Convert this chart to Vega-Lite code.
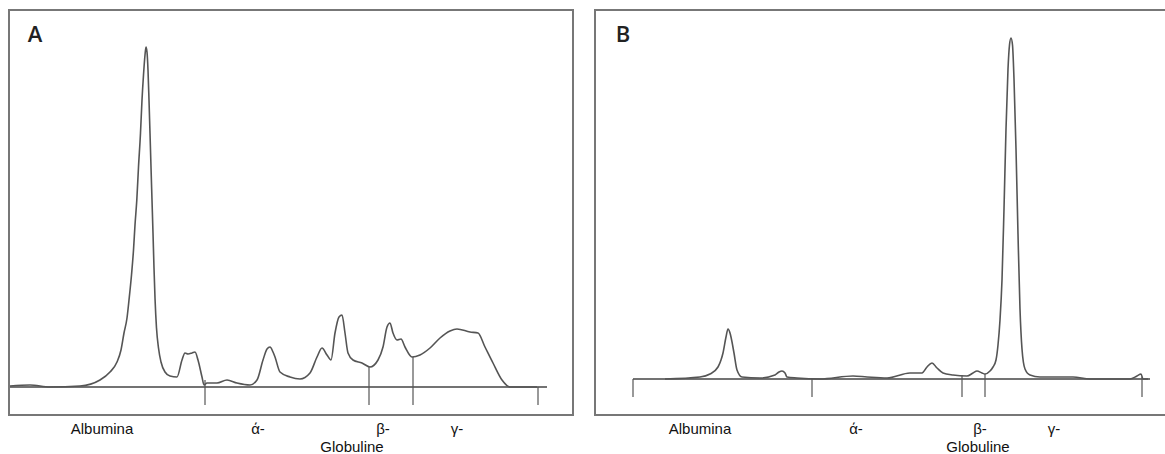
{
  "$schema": "https://vega.github.io/schema/vega-lite/v6.json",
  "padding": {"left": 5, "top": 9, "right": 0, "bottom": 0},
  "spacing": 20,
  "config": {
    "view": {"stroke": "#777", "strokeWidth": 2},
    "text": {"font": "Liberation Sans", "fontSize": 15, "color": "#111"}
  },
  "datasets": {
    "curveA": [
      {"pos": 1, "val": 1}, {"pos": 21, "val": 2}, {"pos": 41, "val": 0}, {"pos": 71, "val": 1},
      {"pos": 91, "val": 7}, {"pos": 101, "val": 15}, {"pos": 108, "val": 25}, {"pos": 112, "val": 37},
      {"pos": 115, "val": 54}, {"pos": 118, "val": 69}, {"pos": 120, "val": 87}, {"pos": 122.5, "val": 112},
      {"pos": 124.5, "val": 137}, {"pos": 126, "val": 162}, {"pos": 127.8, "val": 187}, {"pos": 129.5, "val": 220},
      {"pos": 131.5, "val": 254}, {"pos": 133, "val": 287}, {"pos": 134.5, "val": 312}, {"pos": 136, "val": 332},
      {"pos": 137, "val": 340}, {"pos": 138, "val": 335}, {"pos": 139, "val": 317}, {"pos": 140, "val": 287},
      {"pos": 141, "val": 254}, {"pos": 142, "val": 220}, {"pos": 143, "val": 187}, {"pos": 144, "val": 154},
      {"pos": 145, "val": 119}, {"pos": 146, "val": 89}, {"pos": 147.5, "val": 59}, {"pos": 149.5, "val": 39},
      {"pos": 152, "val": 25}, {"pos": 156, "val": 15}, {"pos": 161, "val": 11}, {"pos": 168, "val": 10},
      {"pos": 173, "val": 27}, {"pos": 176, "val": 34}, {"pos": 179, "val": 33}, {"pos": 183, "val": 34},
      {"pos": 186, "val": 35}, {"pos": 189, "val": 27}, {"pos": 193, "val": 10}, {"pos": 195, "val": 2},
      {"pos": 198, "val": 4}, {"pos": 208, "val": 4}, {"pos": 218, "val": 7}, {"pos": 228, "val": 4},
      {"pos": 241, "val": 2}, {"pos": 248, "val": 7}, {"pos": 254, "val": 27}, {"pos": 258, "val": 38},
      {"pos": 261, "val": 40}, {"pos": 264, "val": 35}, {"pos": 266, "val": 30}, {"pos": 271, "val": 15},
      {"pos": 281, "val": 10}, {"pos": 291, "val": 8}, {"pos": 301, "val": 14}, {"pos": 308, "val": 30},
      {"pos": 313, "val": 39}, {"pos": 318, "val": 32}, {"pos": 322, "val": 27}, {"pos": 326, "val": 54},
      {"pos": 330, "val": 70}, {"pos": 333, "val": 72}, {"pos": 336, "val": 54}, {"pos": 339, "val": 34},
      {"pos": 344, "val": 27}, {"pos": 353, "val": 24}, {"pos": 361, "val": 20}, {"pos": 369, "val": 27},
      {"pos": 374, "val": 40}, {"pos": 378, "val": 60}, {"pos": 381, "val": 64}, {"pos": 384, "val": 54},
      {"pos": 388, "val": 47}, {"pos": 392, "val": 48}, {"pos": 396, "val": 40}, {"pos": 403, "val": 30},
      {"pos": 411, "val": 32}, {"pos": 421, "val": 39}, {"pos": 431, "val": 49}, {"pos": 441, "val": 56},
      {"pos": 448, "val": 58}, {"pos": 461, "val": 55}, {"pos": 469, "val": 54}, {"pos": 476, "val": 40},
      {"pos": 484, "val": 24}, {"pos": 493, "val": 7}, {"pos": 501, "val": 0}, {"pos": 528, "val": 0}
    ],
    "curveB": [
      {"pos": 70, "val": 0}, {"pos": 105, "val": 2}, {"pos": 115, "val": 5}, {"pos": 123, "val": 12},
      {"pos": 126, "val": 19}, {"pos": 128, "val": 26}, {"pos": 131, "val": 42}, {"pos": 133, "val": 50},
      {"pos": 135, "val": 46}, {"pos": 136, "val": 42}, {"pos": 139, "val": 26}, {"pos": 142, "val": 9},
      {"pos": 147, "val": 2}, {"pos": 165, "val": 1}, {"pos": 180, "val": 4}, {"pos": 184, "val": 7},
      {"pos": 187, "val": 8}, {"pos": 190, "val": 6}, {"pos": 192, "val": 2}, {"pos": 202, "val": 1},
      {"pos": 225, "val": 0}, {"pos": 258, "val": 3}, {"pos": 272, "val": 2}, {"pos": 292, "val": 1},
      {"pos": 315, "val": 6}, {"pos": 327, "val": 6}, {"pos": 332, "val": 12}, {"pos": 337, "val": 16},
      {"pos": 342, "val": 11}, {"pos": 348, "val": 6}, {"pos": 358, "val": 4}, {"pos": 372, "val": 3},
      {"pos": 378, "val": 6}, {"pos": 382, "val": 8}, {"pos": 387, "val": 6}, {"pos": 390, "val": 5},
      {"pos": 395, "val": 8}, {"pos": 398, "val": 12}, {"pos": 401, "val": 19}, {"pos": 403, "val": 34},
      {"pos": 405, "val": 59}, {"pos": 407, "val": 99}, {"pos": 409, "val": 170}, {"pos": 411, "val": 250},
      {"pos": 413, "val": 310}, {"pos": 414.5, "val": 334}, {"pos": 416, "val": 341}, {"pos": 417.5, "val": 334},
      {"pos": 419, "val": 300}, {"pos": 421, "val": 230}, {"pos": 423, "val": 145}, {"pos": 425, "val": 70},
      {"pos": 427, "val": 30}, {"pos": 430, "val": 10}, {"pos": 435, "val": 4}, {"pos": 445, "val": 2},
      {"pos": 478, "val": 2}, {"pos": 495, "val": 0}, {"pos": 535, "val": 0}, {"pos": 542, "val": 3},
      {"pos": 546, "val": 5}, {"pos": 548, "val": 0}, {"pos": 553, "val": 0}
    ],
    "baseA": [{"x1": 1, "x2": 538, "y": 0}],
    "baseB": [{"x1": 38, "x2": 555, "y": 0}],
    "ticksA": [
      {"pos": 196, "top": 7, "bottom": -18},
      {"pos": 360, "top": 20, "bottom": -18},
      {"pos": 404, "top": 30, "bottom": -18},
      {"pos": 529, "top": 0, "bottom": -18}
    ],
    "ticksB": [
      {"pos": 38, "top": 0, "bottom": -18},
      {"pos": 217, "top": 0, "bottom": -18},
      {"pos": 367, "top": 4, "bottom": -18},
      {"pos": 390, "top": 5, "bottom": -18},
      {"pos": 547, "top": 2, "bottom": -18}
    ],
    "labelsA": [
      {"pos": 93, "val": -42, "label": "Albumina"},
      {"pos": 249, "val": -42, "label": "ά-"},
      {"pos": 374, "val": -42, "label": "β-"},
      {"pos": 448, "val": -42, "label": "γ-"},
      {"pos": 343, "val": -60, "label": "Globuline"}
    ],
    "labelsB": [
      {"pos": 105, "val": -50, "label": "Albumina"},
      {"pos": 261, "val": -50, "label": "ά-"},
      {"pos": 385, "val": -50, "label": "β-"},
      {"pos": 459, "val": -50, "label": "γ-"},
      {"pos": 383, "val": -68, "label": "Globuline"}
    ],
    "letterA": [{"pos": 26, "val": 352, "label": "A"}],
    "letterB": [{"pos": 28, "val": 344, "label": "B"}]
  },
  "hconcat": [
    {
      "width": 564,
      "height": 405,
      "layer": [
        {
          "data": {"name": "baseA"},
          "mark": {"type": "rule", "color": "#444", "strokeWidth": 1.3},
          "encoding": {
            "x": {"field": "x1", "type": "quantitative", "scale": {"domain": [0, 564], "nice": false, "zero": false}, "axis": null},
            "x2": {"field": "x2"},
            "y": {"field": "y", "type": "quantitative", "scale": {"domain": [-28, 377], "nice": false, "zero": false}, "axis": null}
          }
        },
        {
          "data": {"name": "ticksA"},
          "mark": {"type": "rule", "color": "#555", "strokeWidth": 1.2},
          "encoding": {
            "x": {"field": "pos", "type": "quantitative"},
            "y": {"field": "top", "type": "quantitative"},
            "y2": {"field": "bottom"}
          }
        },
        {
          "data": {"name": "curveA"},
          "mark": {"type": "line", "interpolate": "monotone", "color": "#555", "strokeWidth": 1.6},
          "encoding": {
            "x": {"field": "pos", "type": "quantitative"},
            "y": {"field": "val", "type": "quantitative"}
          }
        },
        {
          "data": {"name": "labelsA"},
          "mark": {"type": "text", "baseline": "middle", "align": "center"},
          "encoding": {
            "x": {"field": "pos", "type": "quantitative"},
            "y": {"field": "val", "type": "quantitative"},
            "text": {"field": "label"}
          }
        },
        {
          "data": {"name": "letterA"},
          "mark": {"type": "text", "baseline": "middle", "align": "center", "font": "Open Sans", "fontSize": 22, "fontWeight": 600, "color": "#222"},
          "encoding": {
            "x": {"field": "pos", "type": "quantitative"},
            "y": {"field": "val", "type": "quantitative"},
            "text": {"field": "label"}
          }
        }
      ]
    },
    {
      "width": 580,
      "height": 405,
      "layer": [
        {
          "data": {"name": "baseB"},
          "mark": {"type": "rule", "color": "#444", "strokeWidth": 1.3},
          "encoding": {
            "x": {"field": "x1", "type": "quantitative", "scale": {"domain": [0, 580], "nice": false, "zero": false}, "axis": null},
            "x2": {"field": "x2"},
            "y": {"field": "y", "type": "quantitative", "scale": {"domain": [-36, 369], "nice": false, "zero": false}, "axis": null}
          }
        },
        {
          "data": {"name": "ticksB"},
          "mark": {"type": "rule", "color": "#555", "strokeWidth": 1.2},
          "encoding": {
            "x": {"field": "pos", "type": "quantitative"},
            "y": {"field": "top", "type": "quantitative"},
            "y2": {"field": "bottom"}
          }
        },
        {
          "data": {"name": "curveB"},
          "mark": {"type": "line", "interpolate": "monotone", "color": "#555", "strokeWidth": 1.6},
          "encoding": {
            "x": {"field": "pos", "type": "quantitative"},
            "y": {"field": "val", "type": "quantitative"}
          }
        },
        {
          "data": {"name": "labelsB"},
          "mark": {"type": "text", "baseline": "middle", "align": "center"},
          "encoding": {
            "x": {"field": "pos", "type": "quantitative"},
            "y": {"field": "val", "type": "quantitative"},
            "text": {"field": "label"}
          }
        },
        {
          "data": {"name": "letterB"},
          "mark": {"type": "text", "baseline": "middle", "align": "center", "font": "Open Sans", "fontSize": 22, "fontWeight": 600, "color": "#222"},
          "encoding": {
            "x": {"field": "pos", "type": "quantitative"},
            "y": {"field": "val", "type": "quantitative"},
            "text": {"field": "label"}
          }
        }
      ]
    }
  ]
}
